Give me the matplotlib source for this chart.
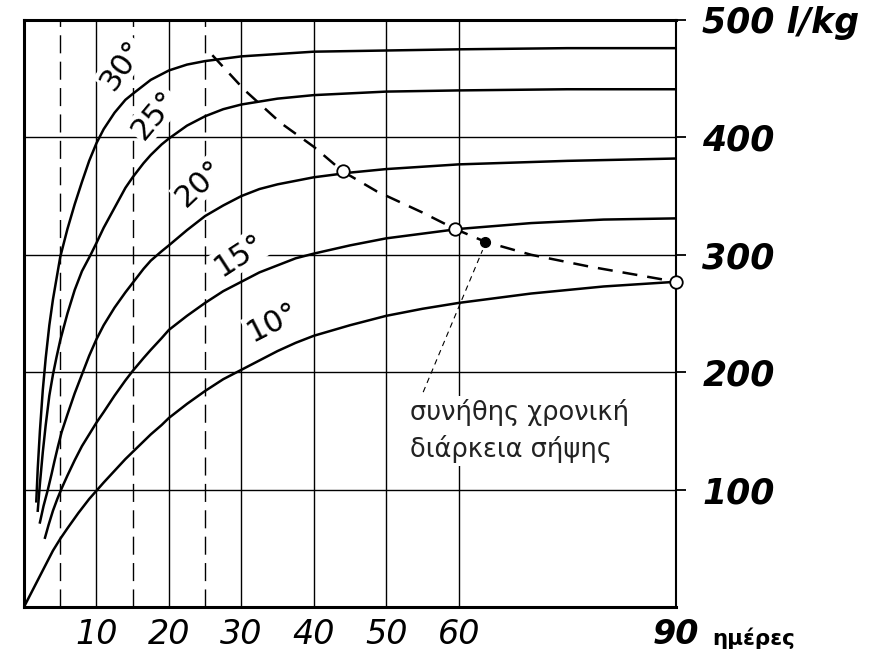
import matplotlib.pyplot as plt

# digestion gas curves (l/kg), one per temperature
days_30 = [1.7, 1.9, 2.2, 2.6, 3.0, 3.5, 4.0, 4.5, 5, 6, 7, 8, 9, 10, 11, 12.5, 14, 15,
           17.5, 20, 22.5, 25, 30, 35, 40, 50, 60, 75, 90]
vals_30 = [90, 118, 150, 185, 212, 240, 262, 280, 298, 322, 343, 362, 380, 395, 407, 421, 432, 437,
           449, 457, 462, 465, 469, 471, 473, 474, 475, 476, 476]

days_25 = [1.9, 2.2, 2.6, 3.0, 3.5, 4.0, 4.5, 5, 6, 7, 8, 9.2, 10, 11, 12.5, 14, 15, 16.5,
           17.5, 19, 20, 22.5, 25, 27.5, 30, 35, 40, 50, 60, 75, 90]
vals_25 = [82, 105, 132, 155, 180, 198, 213, 227, 250, 270, 286, 300, 310, 323, 340, 357, 366, 378,
           385, 394, 399, 410, 418, 424, 428, 433, 436, 439, 440, 441, 441]

days_20 = [2.2, 2.7, 3.3, 3.8, 4.2, 4.7, 5.2, 6, 7, 8, 9, 10, 11, 12.5, 14, 15, 16.5, 17.5,
           19, 20, 22.5, 25, 27.5, 30, 32.5, 35, 40, 45, 50, 60, 75, 90]
vals_20 = [72, 86, 100, 113, 124, 137, 149, 164, 182, 198, 214, 228, 240, 255, 268, 276, 288, 295,
           303, 308, 321, 333, 342, 350, 356, 360, 366, 370, 373, 377, 380, 382]

days_15 = [2.9, 3.4, 4, 4.6, 5.2, 6, 7, 8, 9, 10, 11, 12.5, 14, 15, 16.5, 17.5, 19, 20,
           22.5, 25, 27.5, 30, 32.5, 35, 37.5, 40, 45, 50, 55, 60, 70, 80, 90]
vals_15 = [59, 70, 82, 92, 101, 112, 125, 137, 147, 157, 166, 180, 193, 201, 212, 219, 229, 236,
           248, 259, 269, 277, 285, 291, 297, 301, 308, 314, 318, 322, 327, 330, 331]

days_10 = [0, 1, 2, 3, 4, 5, 6, 7.5, 9, 10, 11, 12.5, 14, 15, 16.5, 17.5, 19, 20, 22.5, 25,
           27.5, 30, 32.5, 35, 37.5, 40, 45, 50, 55, 60, 70, 80, 90]
vals_10 = [0, 12, 24, 36, 48, 58, 67, 80, 92, 99, 106, 116, 126, 132, 141, 147, 155, 161, 173, 184,
           194, 202, 210, 218, 225, 231, 240, 248, 254, 259, 267, 273, 277]

# usual digestion time (dashed line)
dur_days = [26, 30.5, 35.5, 40, 44, 48.7, 55, 59.5, 63.7, 70, 78, 90]
dur_vals = [470, 440, 412, 392, 371, 354, 336, 322, 311, 300, 290, 277]
open_days = [44, 59.5, 90]
open_vals = [371, 322, 277]
dot_day = [63.7]
dot_val = [311]

curve_labels = ["30°", "25°", "20°", "15°", "10°"]
label_x = [13.5, 18, 24.3, 29.8, 34.3]
label_y = [462, 419, 361, 300, 243]
label_rot = [55, 50, 43, 33, 27]

solid_days = [10, 20, 30, 40, 50, 60]
dashed_days = [5, 15, 25]
levels = [100, 200, 300, 400]

x_ticks = [10, 20, 30, 40, 50, 60, 90]
y_ticks = [100, 200, 300, 400, 500]
y_ticklabels = ["100", "200", "300", "400", "500 l/kg"]

fig = plt.figure(figsize=(8.75, 6.55), dpi=100)
ax = fig.add_axes([0.0274, 0.0733, 0.7452, 0.8962])
ax.set_xlim(0, 90)
ax.set_ylim(0, 500)

for d in solid_days:
    ax.axvline(d, color="black", lw=1.0, zorder=1)
for d in dashed_days:
    ax.axvline(d, color="black", lw=1.0, dashes=(13, 6), zorder=1)
for v in levels:
    ax.axhline(v, color="black", lw=1.0, zorder=1)

for dx, vy in [(days_30, vals_30), (days_25, vals_25), (days_20, vals_20),
               (days_15, vals_15), (days_10, vals_10)]:
    ax.plot(dx, vy, color="black", lw=1.8, zorder=3, solid_joinstyle="round")

ax.plot(dur_days, dur_vals, color="black", lw=1.8, dashes=(6, 4), zorder=3, clip_on=False)
ax.plot(open_days, open_vals, "o", ms=9, mfc="white", mec="black", mew=1.3, zorder=4, clip_on=False)
ax.plot(dot_day, dot_val, "o", ms=7, color="black", zorder=4)

for t, x, y, r in zip(curve_labels, label_x, label_y, label_rot):
    ax.text(x, y, t, rotation=r, fontsize=22, ha="center", va="center", zorder=2,
            rotation_mode="anchor",
            bbox=dict(facecolor="white", edgecolor="none", pad=1))

# leader line for the note
ax.plot([55.1, 63.3], [183, 304], color="black", lw=0.8, dashes=(5, 4), zorder=3)
ax.text(53.3, 150, "συνήθης χρονική\nδιάρκεια σήψης", fontsize=18.5, color="#222222",
        ha="left", va="center", linespacing=1.4, zorder=2,
        bbox=dict(facecolor="white", edgecolor="none", pad=2))

ax.set_xticks(x_ticks)
ax.set_xticklabels([str(t) for t in x_ticks], fontsize=24, style="italic")
ax.get_xticklabels()[-1].set_fontweight("bold")
ax.tick_params(axis="x", length=0, pad=8)

ax.yaxis.tick_right()
ax.set_yticks(y_ticks)
ax.set_yticklabels(y_ticklabels, fontsize=25, style="italic", fontweight="bold")
ax.tick_params(axis="y", direction="out", length=7, width=1.3, pad=12)

for s in ["left", "bottom", "top"]:
    ax.spines[s].set_linewidth(2.2)
ax.spines["right"].set_linewidth(1.5)

fig.text(712 / 875, 1 - 638 / 655, "ημέρες", fontsize=15.5, fontweight="bold", va="center")

fig.savefig("out.png", dpi=100, facecolor="white")
